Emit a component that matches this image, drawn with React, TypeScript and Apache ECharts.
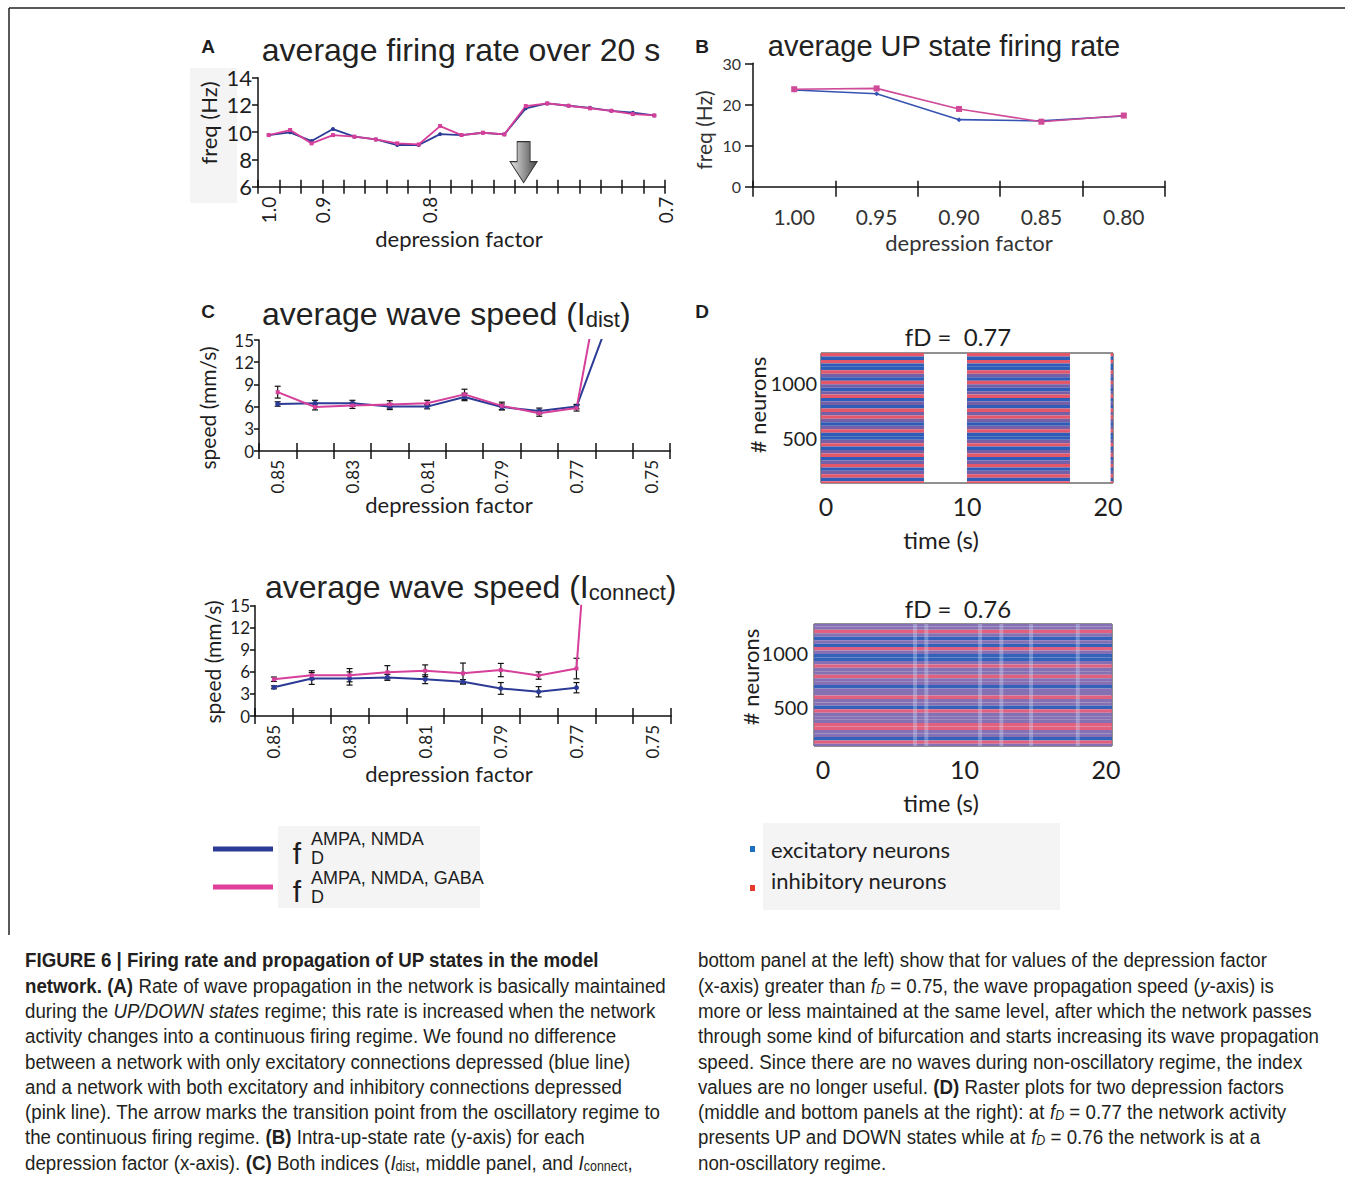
import { useEffect, useRef } from 'react';
import * as echarts from 'echarts';

const BLUE = '#2c3b96';
const PINK = '#d63f9a';
const INK = '#1e1e1e';
const TITLE_FONT = '"Liberation Sans", Arial, Helvetica, sans-serif';
const AXIS_FONT = 'Lato, "Open Sans", sans-serif';
const CAP_FONT = '"Liberation Sans", Arial, sans-serif';

// ---------- Panel A : average firing rate over 20 s ----------
const A_BLUE = [9.79, 9.99, 9.35, 10.23, 9.67, 9.47, 9.06, 9.06, 9.86, 9.79, 9.96, 9.84, 11.75, 12.11, 11.94, 11.79, 11.57, 11.43, 11.23];
const A_PINK = [9.79, 10.16, 9.18, 9.79, 9.67, 9.47, 9.18, 9.1, 10.45, 9.79, 9.96, 9.84, 11.92, 12.11, 11.94, 11.75, 11.57, 11.33, 11.23];
const A_TICKS = [0, 1, 2, 3, 4, 5, 6, 7, 8, 9, 10, 11, 12, 13, 14, 15, 16, 17, 18, 19];
const A_LABEL_POS = [0.5, 3, 8, 19];
const A_LABELS = ['1.0', '0.9', '0.8', '0.7'];
const A_ARROW = [12.4, 7.8];

// ---------- Panel B : average UP state firing rate ----------
const B_CATS = ['1.00', '0.95', '0.90', '0.85', '0.80'];
const B_BLUE = [23.5, 22.6, 16.3, 16.0, 17.2];
const B_PINK = [23.7, 23.9, 18.9, 15.8, 17.3];

// ---------- Panel C : average wave speed ----------
const C_CATS = ['0.85', '0.84', '0.83', '0.82', '0.81', '0.80', '0.79', '0.78', '0.77', '0.76', '0.75'];
const C1_BLUE = [6.35, 6.45, 6.45, 6.0, 6.0, 7.3, 5.95, 5.4, 6.0, 19.6, null];
const C1_PINK = [7.95, 5.95, 6.15, 6.3, 6.45, 7.65, 6.1, 5.1, 5.8, 33, null];
const C1_BLUE_ERR = [0.3, 0.4, 0.4, 0.4, 0.3, 0.5, 0.4, 0.4, 0.3];
const C1_PINK_ERR = [0.8, 0.4, 0.4, 0.5, 0.4, 0.7, 0.5, 0.4, 0.4];
const C2_BLUE = [3.9, 5.1, 5.1, 5.25, 5.0, 4.65, 3.75, 3.3, 3.85, null, null];
const C2_PINK = [5.0, 5.55, 5.55, 5.95, 6.15, 5.8, 6.25, 5.5, 6.45, 75, null];
const C2_BLUE_ERR = [0.2, 0.8, 0.9, 0.4, 0.6, 0.3, 0.8, 0.7, 0.7];
const C2_PINK_ERR = [0.3, 0.6, 0.9, 0.9, 0.8, 1.4, 0.9, 0.5, 1.4];

// ---------- Panel D : raster plots ----------
const N_NEURONS = 1280;
const D1_UP = [[-0.35, 6.95], [10.0, 17.3], [20.18, 20.35]];
const D2_UP = [[-0.64, 20.42]];
const D1_BANDS = ['r', 'b', 'r', 'b', 'b', 'r', 'p', 'b', 'r', 'p', 'b', 'p', 'r', 'b', 'p', 'b', 'r', 'p', 'r', 'p', 'b', 'p', 'r', 'b', 'b', 'p', 'r', 'b', 'p', 'r', 'b', 'p', 'r', 'b', 'p', 'r', 'b', 'r', 'b', 'b'];
const D2_BANDS = ['p', 'p', 'r', 'p', 'b', 'p', 'b', 'r', 'p', 'b', 'b', 'p', 'r', 'p', 'p', 'r', 'p', 'p', 'b', 'p', 'p', 'r', 'p', 'p', 'b', 'r', 'p', 'p', 'p', 'r', 'r', 'p', 'p', 'b', 'r', 'p', 'p', 'b', 'p', 'p'];
const D2_STREAKS = [6.5, 7.3, 11.1, 12.6, 14.7, 18.0];
const D_XTICKS = [0, 10, 20];
const D_YTICKS = [500, 1000];

const BAND_COLORS: Record<string, string> = { r: '#e4566a', b: '#2f5cb6', p: '#7560a8' };
const BAND_COLORS2: Record<string, string> = { r: '#e0607e', b: '#3462ba', p: '#8670b4' };

function rasterData(bands: string[], intervals: number[][]) {
  const h = N_NEURONS / bands.length;
  const out: any[] = [];
  bands.forEach((b, k) => {
    const yHigh = N_NEURONS - k * h;
    const yLow = yHigh - h;
    intervals.forEach(([t0, t1]) => out.push([t0, t1, yLow, yHigh, b]));
  });
  return out;
}

function errData(vals: (number | null)[], errs: number[]) {
  return errs.map((e, i) => [i, (vals[i] as number) - e, (vals[i] as number) + e]);
}

const errRender = (params: any, api: any) => {
  const x = api.value(0);
  const p1 = api.coord([x, api.value(1)]);
  const p2 = api.coord([x, api.value(2)]);
  const w = 3;
  const st = { stroke: '#111', lineWidth: 1.2 };
  return {
    type: 'group',
    children: [
      { type: 'line', shape: { x1: p1[0], y1: p1[1], x2: p2[0], y2: p2[1] }, style: st },
      { type: 'line', shape: { x1: p1[0] - w, y1: p1[1], x2: p1[0] + w, y2: p1[1] }, style: st },
      { type: 'line', shape: { x1: p2[0] - w, y1: p2[1], x2: p2[0] + w, y2: p2[1] }, style: st },
    ],
  };
};

const rasterRender = (colors: Record<string, string>) => (params: any, api: any) => {
  const p0 = api.coord([api.value(0), api.value(3)]);
  const p1 = api.coord([api.value(1), api.value(2)]);
  const cs = params.coordSys;
  const shape = echarts.graphic.clipRectByRect(
    { x: p0[0], y: p0[1], width: p1[0] - p0[0], height: p1[1] - p0[1] },
    { x: cs.x, y: cs.y, width: cs.width, height: cs.height }
  );
  if (!shape) return null;
  return { type: 'rect', shape, style: { fill: colors[api.value(4)] } };
};

const axisLineStyle = { color: '#111', width: 1.5 };

function crossX(gridIndex: number, base: any, outLen: number, inLen: number) {
  return [
    {
      gridIndex, position: 'bottom', ...base,
      axisLine: { show: true, lineStyle: axisLineStyle },
      axisTick: { ...(base.axisTick || {}), show: true, length: outLen, lineStyle: axisLineStyle },
      splitLine: { show: false },
    },
    {
      gridIndex, position: 'bottom', ...base,
      axisLine: { show: false },
      axisTick: { ...(base.axisTick || {}), show: true, inside: true, length: inLen, lineStyle: axisLineStyle },
      axisLabel: { show: false },
      splitLine: { show: false },
    },
  ];
}

const txt = (x: number, y: number, text: string, fontSize: number, o: any = {}) => ({
  type: 'text', x, y, rotation: o.rot || 0, z: 20,
  style: {
    text, fontSize, fontFamily: o.font || AXIS_FONT, fill: o.color || INK,
    align: o.align || 'center', verticalAlign: 'middle', fontWeight: o.weight || 'normal',
    rich: o.rich,
  },
});

const CAP_SIZE = 21;
const capRich = {
  b: { fontFamily: CAP_FONT, fontSize: CAP_SIZE, fontWeight: 'bold', fill: '#231f20' },
  i: { fontFamily: CAP_FONT, fontSize: CAP_SIZE, fontStyle: 'italic', fill: '#231f20' },
  s: { fontFamily: CAP_FONT, fontSize: 14, fill: '#231f20', verticalAlign: 'bottom' },
  si: { fontFamily: CAP_FONT, fontSize: 14, fontStyle: 'italic', fill: '#231f20', verticalAlign: 'bottom' },
};

const CAP_LEFT = [
  '{b|FIGURE 6 | Firing rate and propagation of UP states in the model}',
  '{b|network. (A)} Rate of wave propagation in the network is basically maintained',
  'during the {i|UP/DOWN states} regime; this rate is increased when the network',
  'activity changes into a continuous firing regime. We found no difference',
  'between a network with only excitatory connections depressed (blue line)',
  'and a network with both excitatory and inhibitory connections depressed',
  '(pink line). The arrow marks the transition point from the oscillatory regime to',
  'the continuous firing regime. {b|(B)} Intra-up-state rate (y-axis) for each',
  'depression factor (x-axis). {b|(C)} Both indices ({i|I}{s|dist}, middle panel, and {i|I}{s|connect},',
];
const CAP_RIGHT = [
  'bottom panel at the left) show that for values of the depression factor',
  '(x-axis) greater than {i|f}{si|D} = 0.75, the wave propagation speed ({i|y}-axis) is',
  'more or less maintained at the same level, after which the network passes',
  'through some kind of bifurcation and starts increasing its wave propagation',
  'speed. Since there are no waves during non-oscillatory regime, the index',
  'values are no longer useful. {b|(D)} Raster plots for two depression factors',
  '(middle and bottom panels at the right): at {i|f}{si|D} = 0.77 the network activity',
  'presents UP and DOWN states while at {i|f}{si|D} = 0.76 the network is at a',
  'non-oscillatory regime.',
];

function capText(x: number, y: number, text: string) {
  return {
    type: 'text', x, y, scaleX: 0.892, z: 20,
    style: { text, fontFamily: CAP_FONT, fontSize: CAP_SIZE, fill: '#231f20', align: 'left', verticalAlign: 'middle', rich: capRich },
  };
}

function buildOption() {
  const xAxis: any[] = [
    ...crossX(0, {
      type: 'value', min: 0, max: 19,
      axisTick: { customValues: A_TICKS },
      axisLabel: {
        customValues: A_LABEL_POS, rotate: 90, margin: 10, fontSize: 19, color: INK, fontFamily: AXIS_FONT,
        formatter: (v: number) => {
          const k = A_LABEL_POS.findIndex((p) => Math.abs(p - v) < 1e-6);
          return k >= 0 ? A_LABELS[k] : '';
        },
      },
    }, 7, 7),
    ...crossX(1, {
      type: 'category', data: B_CATS, boundaryGap: true,
      axisTick: { alignWithLabel: false },
      axisLabel: { margin: 19, fontSize: 21, color: '#333', fontFamily: AXIS_FONT },
    }, 10, 6),
    ...crossX(2, {
      type: 'category', data: C_CATS, boundaryGap: true,
      axisTick: { alignWithLabel: false, interval: 0 },
      axisLabel: { interval: 1, rotate: 90, margin: 9, fontSize: 17, color: INK, fontFamily: AXIS_FONT },
    }, 8, 8),
    ...crossX(3, {
      type: 'category', data: C_CATS, boundaryGap: true,
      axisTick: { alignWithLabel: false, interval: 0 },
      axisLabel: { interval: 1, rotate: 90, margin: 9, fontSize: 17, color: INK, fontFamily: AXIS_FONT },
    }, 8, 8),
    {
      gridIndex: 4, type: 'value', min: -0.35, max: 20.35,
      axisLine: { show: false }, axisTick: { show: false }, splitLine: { show: false },
      axisLabel: { customValues: D_XTICKS, fontSize: 25, margin: 10, color: INK, fontFamily: AXIS_FONT },
    },
    {
      gridIndex: 5, type: 'value', min: -0.64, max: 20.42,
      axisLine: { show: false }, axisTick: { show: false }, splitLine: { show: false },
      axisLabel: { customValues: D_XTICKS, fontSize: 25, margin: 10, color: INK, fontFamily: AXIS_FONT },
    },
  ];

  const yBase = (min: number, max: number, interval: number, fontSize: number, margin: number, tick: number) => ({
    type: 'value', min, max, interval,
    axisLine: { show: true, lineStyle: axisLineStyle },
    axisTick: { show: true, length: tick, lineStyle: axisLineStyle },
    axisLabel: { fontSize, margin, color: INK, fontFamily: AXIS_FONT },
    splitLine: { show: false },
  });

  const plain = (v: number) => String(v);

  const yAxis: any[] = [
    { gridIndex: 0, ...yBase(6, 14, 2, 22, 6, 6) },
    { gridIndex: 1, ...yBase(0, 30, 10, 16, 12, 8), axisLabel: { fontSize: 16, margin: 12, color: '#333', fontFamily: AXIS_FONT } },
    { gridIndex: 2, ...yBase(0, 15, 3, 17, 5, 5) },
    { gridIndex: 3, ...yBase(0, 15, 3, 17, 5, 5) },
    {
      gridIndex: 4, type: 'value', min: 80, max: 1280,
      axisLine: { show: false }, axisTick: { show: false }, splitLine: { show: false },
      axisLabel: { customValues: D_YTICKS, formatter: plain, fontSize: 20, margin: 4, color: INK, fontFamily: AXIS_FONT },
    },
    {
      gridIndex: 5, type: 'value', min: 140, max: 1270,
      axisLine: { show: false }, axisTick: { show: false }, splitLine: { show: false },
      axisLabel: { customValues: D_YTICKS, formatter: plain, fontSize: 20, margin: 6, color: INK, fontFamily: AXIS_FONT },
    },
  ];

  const grid = [
    { left: 258, top: 77.7, width: 407, height: 109 },
    { left: 753, top: 63.3, width: 412, height: 123.4 },
    { left: 259, top: 340, width: 411, height: 111 },
    { left: 255, top: 605.7, width: 416, height: 110.3 },
    { left: 821, top: 353, width: 292, height: 130, show: true, borderColor: '#222', borderWidth: 1, backgroundColor: '#fff' },
    { left: 814, top: 624, width: 298, height: 122, show: true, borderColor: '#222', borderWidth: 1, backgroundColor: '#fff' },
  ];

  const lineS = (name: string, xi: number, yi: number, data: any[], color: string, width: number, symbol: string, size: number, extra: any = {}) => ({
    type: 'line', name, xAxisIndex: xi, yAxisIndex: yi, data,
    lineStyle: { color, width }, itemStyle: { color },
    symbol, symbolSize: size, showSymbol: true, clip: true, z: 3, ...extra,
  });

  const series: any[] = [
    lineS('A blue', 0, 0, A_BLUE.map((v, i) => [i + 0.5, v]), BLUE, 1.8, 'circle', 4),
    lineS('A pink', 0, 0, A_PINK.map((v, i) => [i + 0.5, v]), PINK, 1.8, 'rect', 4, {
      markPoint: {
        symbol: 'path://M7,0 L20,0 L20,20 L27,20 L13.5,41 L0,20 L7,20 Z',
        symbolSize: [27, 41], symbolKeepAspect: false,
        label: { show: false },
        itemStyle: {
          color: { type: 'linear', x: 0, y: 0, x2: 1, y2: 0, colorStops: [{ offset: 0, color: '#e6e6e6' }, { offset: 1, color: '#4a4a4a' }] },
          borderColor: '#333', borderWidth: 1,
        },
        data: [{ coord: A_ARROW }],
      },
    }),
    lineS('B blue', 2, 1, B_BLUE, '#3553b0', 1.6, 'diamond', 5),
    lineS('B pink', 2, 1, B_PINK, '#cf4b98', 1.6, 'rect', 6),
    { type: 'custom', xAxisIndex: 4, yAxisIndex: 2, data: errData(C1_BLUE, C1_BLUE_ERR), renderItem: errRender, encode: { x: 0, y: [1, 2] }, z: 2 },
    { type: 'custom', xAxisIndex: 4, yAxisIndex: 2, data: errData(C1_PINK, C1_PINK_ERR), renderItem: errRender, encode: { x: 0, y: [1, 2] }, z: 2 },
    lineS('C1 blue', 4, 2, C1_BLUE, BLUE, 2, 'circle', 5),
    lineS('C1 pink', 4, 2, C1_PINK, PINK, 2, 'rect', 4),
    { type: 'custom', xAxisIndex: 6, yAxisIndex: 3, data: errData(C2_BLUE, C2_BLUE_ERR), renderItem: errRender, encode: { x: 0, y: [1, 2] }, z: 2 },
    { type: 'custom', xAxisIndex: 6, yAxisIndex: 3, data: errData(C2_PINK, C2_PINK_ERR), renderItem: errRender, encode: { x: 0, y: [1, 2] }, z: 2 },
    lineS('C2 blue', 6, 3, C2_BLUE, BLUE, 2, 'circle', 5),
    lineS('C2 pink', 6, 3, C2_PINK, PINK, 2, 'rect', 4),
    {
      type: 'custom', xAxisIndex: 8, yAxisIndex: 4, data: rasterData(D1_BANDS, D1_UP),
      renderItem: rasterRender(BAND_COLORS), encode: { x: [0, 1], y: [2, 3] },
    },
    {
      type: 'custom', xAxisIndex: 9, yAxisIndex: 5, data: rasterData(D2_BANDS, D2_UP),
      renderItem: rasterRender(BAND_COLORS2), encode: { x: [0, 1], y: [2, 3] },
    },
    {
      type: 'custom', xAxisIndex: 9, yAxisIndex: 5, data: D2_STREAKS.map((t) => [t - 0.14, t + 0.14, 140, 1270]),
      renderItem: (params: any, api: any) => {
        const p0 = api.coord([api.value(0), api.value(3)]);
        const p1 = api.coord([api.value(1), api.value(2)]);
        return { type: 'rect', shape: { x: p0[0], y: p0[1], width: p1[0] - p0[0], height: p1[1] - p0[1] }, style: { fill: 'rgba(215,232,255,0.32)' } };
      },
      encode: { x: [0, 1], y: [2, 3] }, z: 3,
    },
  ];

  const graphic: any[] = [
    // frame
    { type: 'line', shape: { x1: 9, y1: 8, x2: 1345, y2: 8 }, style: { stroke: '#222', lineWidth: 1.5 } },
    { type: 'line', shape: { x1: 9, y1: 8, x2: 9, y2: 935 }, style: { stroke: '#222', lineWidth: 1.5 } },
    // backgrounds
    { type: 'rect', z: -5, shape: { x: 190, y: 68, width: 47, height: 135 }, style: { fill: '#f4f4f4' } },
    { type: 'rect', z: -5, shape: { x: 278, y: 826, width: 202, height: 82 }, style: { fill: '#f4f4f4' } },
    { type: 'rect', z: -5, shape: { x: 763, y: 823, width: 297, height: 87 }, style: { fill: '#f4f4f4' } },
    // panel letters
    txt(208, 46, 'A', 19, { font: TITLE_FONT, weight: 'bold' }),
    txt(702, 46, 'B', 19, { font: TITLE_FONT, weight: 'bold' }),
    txt(208, 311, 'C', 19, { font: TITLE_FONT, weight: 'bold' }),
    txt(702, 311, 'D', 19, { font: TITLE_FONT, weight: 'bold' }),
    // titles
    txt(461, 50, 'average firing rate over 20 s', 32, { font: TITLE_FONT, color: '#222' }),
    txt(944, 46, 'average UP state firing rate', 29, { font: TITLE_FONT, color: '#222' }),
    txt(262, 314, 'average wave speed (I{s|dist})', 32, {
      font: TITLE_FONT, color: '#222', align: 'left',
      rich: { s: { fontFamily: TITLE_FONT, fontSize: 22, fill: '#222', verticalAlign: 'bottom' } },
    }),
    txt(265, 587, 'average wave speed (I{s|connect})', 32, {
      font: TITLE_FONT, color: '#222', align: 'left',
      rich: { s: { fontFamily: TITLE_FONT, fontSize: 22, fill: '#222', verticalAlign: 'bottom' } },
    }),
    // axis names
    txt(208, 123, 'freq (Hz)', 22, { rot: Math.PI / 2 }),
    txt(459, 238, 'depression factor', 22),
    txt(703, 130, 'freq (Hz)', 21, { rot: Math.PI / 2, color: '#333' }),
    txt(969, 242, 'depression factor', 22, { color: '#333' }),
    txt(207, 408, 'speed (mm/s)', 21, { rot: Math.PI / 2 }),
    txt(449, 504, 'depression factor', 22),
    txt(212, 662, 'speed (mm/s)', 21, { rot: Math.PI / 2 }),
    txt(449, 773, 'depression factor', 22),
    txt(958, 336, 'fD =  0.77', 24),
    txt(757, 405, '# neurons', 22, { rot: Math.PI / 2 }),
    txt(941, 539, 'time (s)', 24),
    txt(958, 608, 'fD =  0.76', 24),
    txt(750, 677, '# neurons', 22, { rot: Math.PI / 2 }),
    txt(941, 802, 'time (s)', 24),
    // legend left
    { type: 'line', shape: { x1: 213, y1: 849, x2: 273, y2: 849 }, style: { stroke: BLUE, lineWidth: 5 } },
    { type: 'line', shape: { x1: 213, y1: 887, x2: 273, y2: 887 }, style: { stroke: '#e0409a', lineWidth: 5 } },
    txt(297, 853, 'f', 30, { font: TITLE_FONT }),
    txt(311, 839, 'AMPA, NMDA', 18, { font: TITLE_FONT, align: 'left' }),
    txt(311, 858, 'D', 18, { font: TITLE_FONT, align: 'left' }),
    txt(297, 891, 'f', 30, { font: TITLE_FONT }),
    txt(311, 878, 'AMPA, NMDA, GABA', 18, { font: TITLE_FONT, align: 'left' }),
    txt(311, 897, 'D', 18, { font: TITLE_FONT, align: 'left' }),
    // legend right
    { type: 'rect', shape: { x: 750, y: 846, width: 5, height: 6 }, style: { fill: '#1f6fc0' } },
    { type: 'rect', shape: { x: 750, y: 885, width: 5, height: 6 }, style: { fill: '#e5392e' } },
    txt(771, 849, 'excitatory neurons', 22, { align: 'left' }),
    txt(771, 880, 'inhibitory neurons', 22, { align: 'left' }),
    // captions
    ...CAP_LEFT.map((t, i) => capText(25, 960 + i * 25.3, t)),
    ...CAP_RIGHT.map((t, i) => capText(698, 960 + i * 25.3, t)),
  ];

  return { animation: false, backgroundColor: '#fff', grid, xAxis, yAxis, series, graphic };
}

export default function App() {
  const ref = useRef<HTMLDivElement>(null);
  useEffect(() => {
    if (!ref.current) return;
    const chart = echarts.init(ref.current, undefined, { renderer: 'svg' });
    chart.setOption(buildOption() as any);
    return () => chart.dispose();
  }, []);
  return <div ref={ref} style={{ position: 'absolute', left: 0, top: 0, width: 1354, height: 1178 }} />;
}
